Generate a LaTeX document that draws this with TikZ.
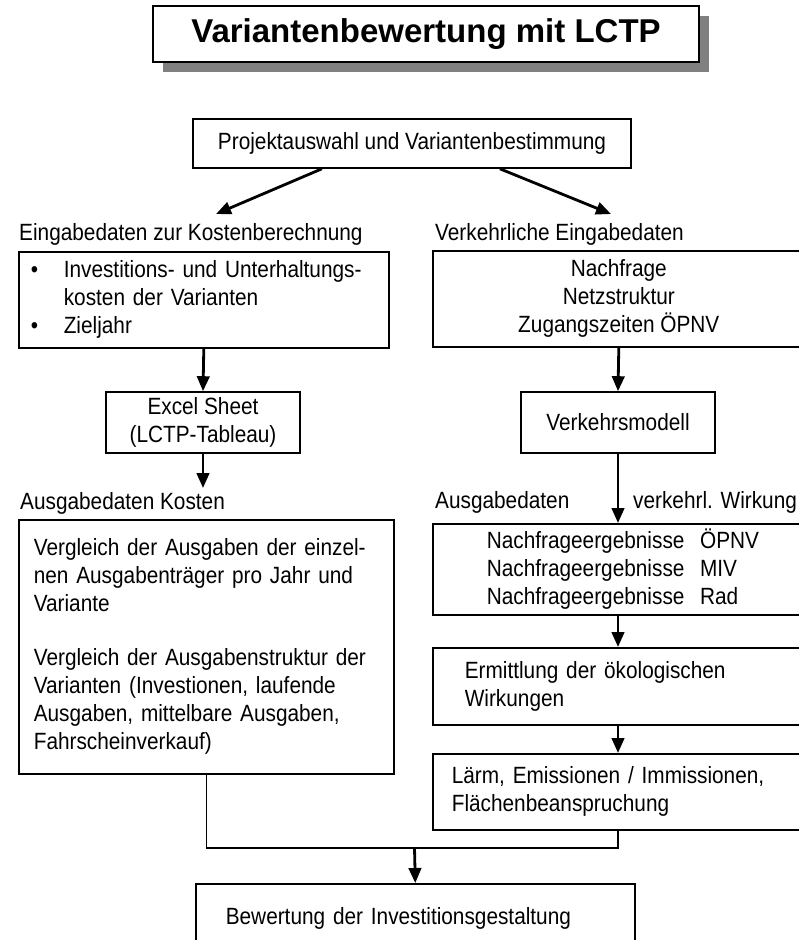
\documentclass[tikz,border=0pt]{standalone}
\usepackage{fontspec}
\setmainfont{Liberation Sans}
\newfontfamily\condfont[FakeStretch=0.885]{Liberation Sans}
\usetikzlibrary{arrows.meta,calc}
\definecolor{shadowgray}{RGB}{128,128,128}
\newcommand{\bodyfont}{\condfont\fontsize{23.5}{28}\selectfont}
\newcommand{\titlefont}{\fontsize{33}{38}\selectfont\bfseries}
\begin{document}
\begin{tikzpicture}[x=1pt,y=-1pt,
  box/.style={draw, line width=1.6pt, rectangle, inner sep=0pt, font=\bodyfont},
  lbl/.style={inner sep=0pt, font=\bodyfont, anchor=base west},
  arr/.style={line width=2.8pt, -{Triangle[length=15pt,width=12.5pt]}},
  conn/.style={line width=1.6pt}]
\useasboundingbox (0,0) rectangle (799,940);
\clip (0,0) rectangle (799,940);
% title
\fill[shadowgray] (163,16) rectangle (709,72);
\node[box, fill=white, line width=1.2pt, minimum width=546pt, minimum height=56pt, font=\titlefont] (title) at (426,34) {Variantenbewertung mit LCTP};
% top
\node[box, minimum width=438pt, minimum height=49pt] (top) at (412,143.5) {Projektauswahl und Variantenbestimmung};
\coordinate (t1) at (216,214);
\coordinate (t2) at (611,214);
\draw[arr] ($(top.south west)!0.295!(top.south east)$) -- (t1);
\draw[arr] ($(top.south west)!0.70!(top.south east)$) -- (t2);
% left column
\node[lbl] (l1) at (19,240) {Eingabedaten zur Kostenberechnung};
\node[box, anchor=north west, minimum width=370pt, minimum height=96pt, text width=346pt, align=left, inner xsep=12pt] (in1) at (18,251)
 {\makebox[33pt][l]{\textbullet}Investitions- und Unterhaltungs-\\\hspace*{33pt}kosten der Varianten\\\makebox[33pt][l]{\textbullet}Zieljahr};
\node[box, minimum width=194pt, minimum height=61pt, align=center] (excel) at (203,422.5) {Excel Sheet\\(LCTP-Tableau)};
\draw[arr] (in1.south) -- (excel.north);
\coordinate (k1) at (203,488);
\draw[arr] (excel.south) -- (k1);
\node[lbl] (l3) at (20,509) {Ausgabedaten Kosten};
\node[box, anchor=north west, minimum width=370pt, minimum height=254pt, text width=345pt, align=left, inner xsep=15pt] (out1) at (18,519)
 {Vergleich der Ausgaben der einzel-\\nen Ausgabenträger pro Jahr und\\Variante\\[26pt]Vergleich der Ausgabenstruktur der\\Varianten (Investionen, laufende\\Ausgaben, mittelbare Ausgaben,\\Fahrscheinverkauf)};
% right column
\node[lbl] (l2) at (435,240) {Verkehrliche Eingabedaten};
\node[box, anchor=north west, minimum width=372pt, minimum height=96pt, align=center] (in2) at (432,250) {Nachfrage\\Netzstruktur\\Zugangszeiten ÖPNV};
\node[box, minimum width=194pt, minimum height=61pt] (model) at (618,422.5) {Verkehrsmodell};
\draw[arr] (in2.south) -- (model.north);
\node[lbl] (l4) at (435,508) {Ausgabedaten};
\node[lbl] (l5) at (633,508) {verkehrl. Wirkung};
\node[box, anchor=north west, minimum width=372pt, minimum height=91pt, text width=300pt, align=left, inner xsep=54pt] (res) at (432,523)
 {Nachfrageergebnisse\ \ ÖPNV\\Nachfrageergebnisse\ \ MIV\\Nachfrageergebnisse\ \ Rad};
\draw[arr] (model.south) -- (model.south |- res.north);
\node[box, anchor=north west, minimum width=372pt, minimum height=77pt, text width=308pt, align=left, inner xsep=32pt] (ermit) at (432,647)
 {Ermittlung der ökologischen\\Wirkungen};
\draw[arr] (model.south |- res.south) -- (model.south |- ermit.north);
\node[box, anchor=north west, minimum width=372pt, minimum height=76pt, text width=334pt, align=left, inner xsep=19pt] (laerm) at (432,753)
 {Lärm, Emissionen / Immissionen,\\Flächenbeanspruchung};
\draw[arr] (model.south |- ermit.south) -- (model.south |- laerm.north);
% bottom
\node[box, anchor=north west, minimum width=439pt, minimum height=70pt, text width=379pt, align=left, inner xsep=30pt] (bew) at (195,883)
 {Bewertung der Investitionsgestaltung};
\coordinate (j) at (414.5,848);
\draw[conn] (out1.south) |- (j) -| (model.south |- laerm.south);
\draw[arr] (j) -- (bew.north);
\end{tikzpicture}
\end{document}
